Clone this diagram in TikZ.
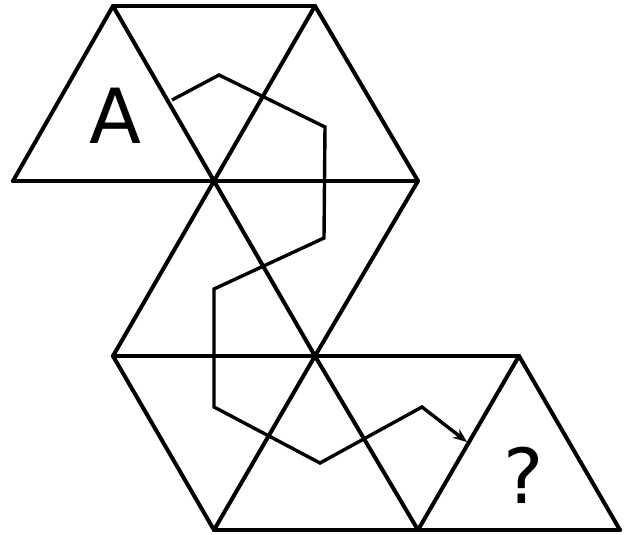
\documentclass[tikz,border=0pt]{standalone}
\usepackage{fontspec}
\setmainfont{DejaVu Sans}
\usetikzlibrary{arrows.meta}
\begin{document}
\begin{tikzpicture}[x=1pt,y=-1pt,
  edge/.style={line width=4pt,line cap=round,line join=round},
  route/.style={line width=3.4pt,line join=miter,-{Stealth[length=14pt,width=11pt]}},
  lbl/.style={font=\fontsize{76}{76}\selectfont,anchor=base,inner sep=0pt}]
\useasboundingbox (0,0) rectangle (629,535);
% lattice vertices
\coordinate (t1) at (113,6);
\coordinate (t2) at (315,6);
\coordinate (m1) at (13,181);
\coordinate (m2) at (214,181);
\coordinate (m3) at (418,181);
\coordinate (n1) at (113,356);
\coordinate (n2) at (315,356);
\coordinate (n3) at (519,356);
\coordinate (b1) at (214,530);
\coordinate (b2) at (418,530);
\coordinate (b3) at (620,530);
% horizontals
\draw[edge] (t1) -- (t2);
\draw[edge] (m1) -- (m3);
\draw[edge] (n1) -- (n3);
\draw[edge] (b1) -- (b3);
% slanted
\draw[edge] (t1) -- (m1);
\draw[edge] (t1) -- (m2) -- (n2) -- (b2);
\draw[edge] (t2) -- (m2) -- (n1);
\draw[edge] (t2) -- (m3) -- (n2) -- (b1);
\draw[edge] (n1) -- (b1);
\draw[edge] (n3) -- (b2);
\draw[edge] (n3) -- (b3);
% route
\coordinate (p0) at (172,100);
\coordinate (p1) at (219,75);
\coordinate (p2) at (325,127);
\coordinate (p3) at (324,238);
\coordinate (p4) at (214,289);
\coordinate (p5) at (214,407);
\coordinate (p6) at (320,463);
\coordinate (p7) at (422,407);
\coordinate (p8) at (467,442);
\draw[route] (p0) -- (p1) -- (p2) -- (p3) -- (p4) -- (p5) -- (p6) -- (p7) -- (p8);
% labels
\node[lbl] (A) at (115,143) {A};
\node[lbl] (Q) at (524,503) {?};
\end{tikzpicture}
\end{document}
